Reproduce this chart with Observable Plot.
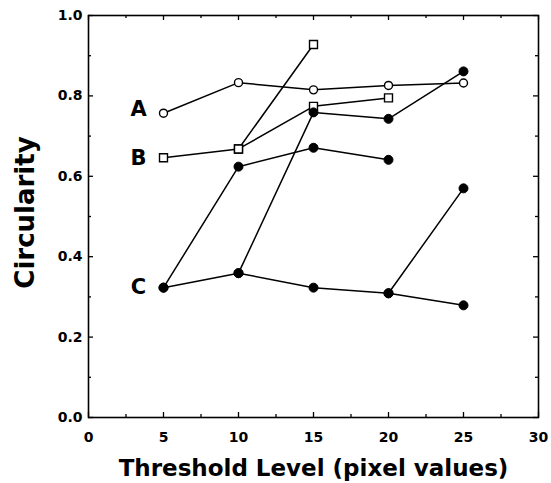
<!DOCTYPE html>
<html><head><meta charset="utf-8">
<script src="https://cdn.jsdelivr.net/npm/d3@7"></script>
<script src="https://cdn.jsdelivr.net/npm/@observablehq/plot@0.6"></script>
<style>body{margin:0;background:#fff}</style>
</head><body><div id="chart"></div>
<script>
// Tick values
const xTicks = [0, 5, 10, 15, 20, 25, 30];
const xMinor = [2.5, 7.5, 12.5, 17.5, 22.5, 27.5];
const yTicks = [0, 0.2, 0.4, 0.6, 0.8, 1.0];
const yMinor = [0.1, 0.3, 0.5, 0.7, 0.9];

// Series A (open circles)
const aX = [5, 10, 15, 20, 25];
const aY = [0.757, 0.833, 0.815, 0.826, 0.832];
// Series B (open squares), two branches
const b1X = [5, 10, 15];
const b1Y = [0.646, 0.668, 0.928];
const b2X = [10, 15, 20];
const b2Y = [0.668, 0.774, 0.795];
// Series C (filled circles), branches
const c1X = [5, 10, 15, 20];
const c1Y = [0.323, 0.624, 0.671, 0.641];
const c2X = [5, 10, 15, 20, 25];
const c2Y = [0.323, 0.359, 0.759, 0.743, 0.861];
const c3X = [10, 15, 20, 25];
const c3Y = [0.359, 0.323, 0.309, 0.279];
const c4X = [20, 25];
const c4Y = [0.309, 0.570];

// Series labels
const labelText = ["A", "B", "C"];
const labelX = [5, 5, 5];
const labelY = [0.767, 0.646, 0.323];

const xTitle = "Threshold Level (pixel values)";
const yTitle = "Circularity";

function rows(series, branch, xs, ys) {
  return xs.map((x, i) => ({series, branch, x, y: ys[i]}));
}
const A = rows("A", "a", aX, aY);
const B = [...rows("B", "b1", b1X, b1Y), ...rows("B", "b2", b2X, b2Y)];
const C = [...rows("C", "c1", c1X, c1Y), ...rows("C", "c2", c2X, c2Y),
           ...rows("C", "c3", c3X, c3Y), ...rows("C", "c4", c4X, c4Y)];
const allRows = [...A, ...B, ...C];
const labels = labelText.map((t, i) => ({t, x: labelX[i], y: labelY[i]}));

const W = 551, H = 483;
const mL = 88, mR = 13, mT = 15, mB = 66;
const fw = W - mL - mR, fh = H - mT - mB;
const font = "DejaVu Sans, Liberation Sans, Arial, sans-serif";

const chart = Plot.plot({
  width: W, height: H,
  marginLeft: mL, marginRight: mR, marginTop: mT, marginBottom: mB,
  x: {domain: [0, 30], axis: null},
  y: {domain: [0, 1], axis: null},
  style: {fontFamily: font, background: "white", color: "black"},
  marks: [
    // inward ticks: bottom / top
    Plot.ruleX(xTicks, {x: d => d, insetTop: fh - 5, stroke: "black", strokeWidth: 1.3}),
    Plot.ruleX(xMinor, {x: d => d, insetTop: fh - 3, stroke: "black", strokeWidth: 1.3}),
    Plot.ruleX(xTicks, {x: d => d, insetBottom: fh - 5, stroke: "black", strokeWidth: 1.3}),
    Plot.ruleX(xMinor, {x: d => d, insetBottom: fh - 3, stroke: "black", strokeWidth: 1.3}),
    // inward ticks: left / right
    Plot.ruleY(yTicks, {y: d => d, insetRight: fw - 5, stroke: "black", strokeWidth: 1.3}),
    Plot.ruleY(yMinor, {y: d => d, insetRight: fw - 3, stroke: "black", strokeWidth: 1.3}),
    Plot.ruleY(yTicks, {y: d => d, insetLeft: fw - 5, stroke: "black", strokeWidth: 1.3}),
    Plot.ruleY(yMinor, {y: d => d, insetLeft: fw - 3, stroke: "black", strokeWidth: 1.3}),
    Plot.frame({stroke: "black", strokeWidth: 1.6}),
    // tick labels
    Plot.text(xTicks, {x: d => d, frameAnchor: "bottom", lineAnchor: "middle", textAnchor: "middle", dy: 20,
      text: d => String(d), fontSize: 14, fontWeight: "bold", fill: "black", style: "letter-spacing:1px"}),
    Plot.text(yTicks, {y: d => d, frameAnchor: "left", lineAnchor: "middle", dx: -6, textAnchor: "end",
      text: d => d3.format(".1f")(d), fontSize: 14, fontWeight: "bold", fill: "black"}),
    // axis titles
    Plot.text([xTitle], {frameAnchor: "bottom", lineAnchor: "middle", textAnchor: "middle", dy: 51,
      text: d => d, fontSize: 23, fontWeight: "bold", fill: "black"}),
    Plot.text([yTitle], {frameAnchor: "left", lineAnchor: "middle", textAnchor: "middle", dx: -63, dy: -4, rotate: -90,
      text: d => d, fontSize: 26, fontWeight: "bold", fill: "black"}),
    // lines
    Plot.line(allRows, {x: "x", y: "y", z: "branch", stroke: "black", strokeWidth: 1.5}),
    // markers
    Plot.dot(A, {x: "x", y: "y", r: 4, fill: "white", stroke: "black", strokeWidth: 1.4}),
    Plot.dot(B, {x: "x", y: "y", r: 4.5, symbol: "square", fill: "white", stroke: "black", strokeWidth: 1.4}),
    Plot.dot(C, {x: "x", y: "y", r: 4.5, fill: "black", stroke: "black", strokeWidth: 1}),
    // series labels
    Plot.text(labels, {x: "x", y: "y", text: "t", dx: -25, lineAnchor: "middle", fontSize: 21, fontWeight: "bold", fill: "black"})
  ]
});
document.getElementById("chart").appendChild(chart);
</script>
</body></html>
